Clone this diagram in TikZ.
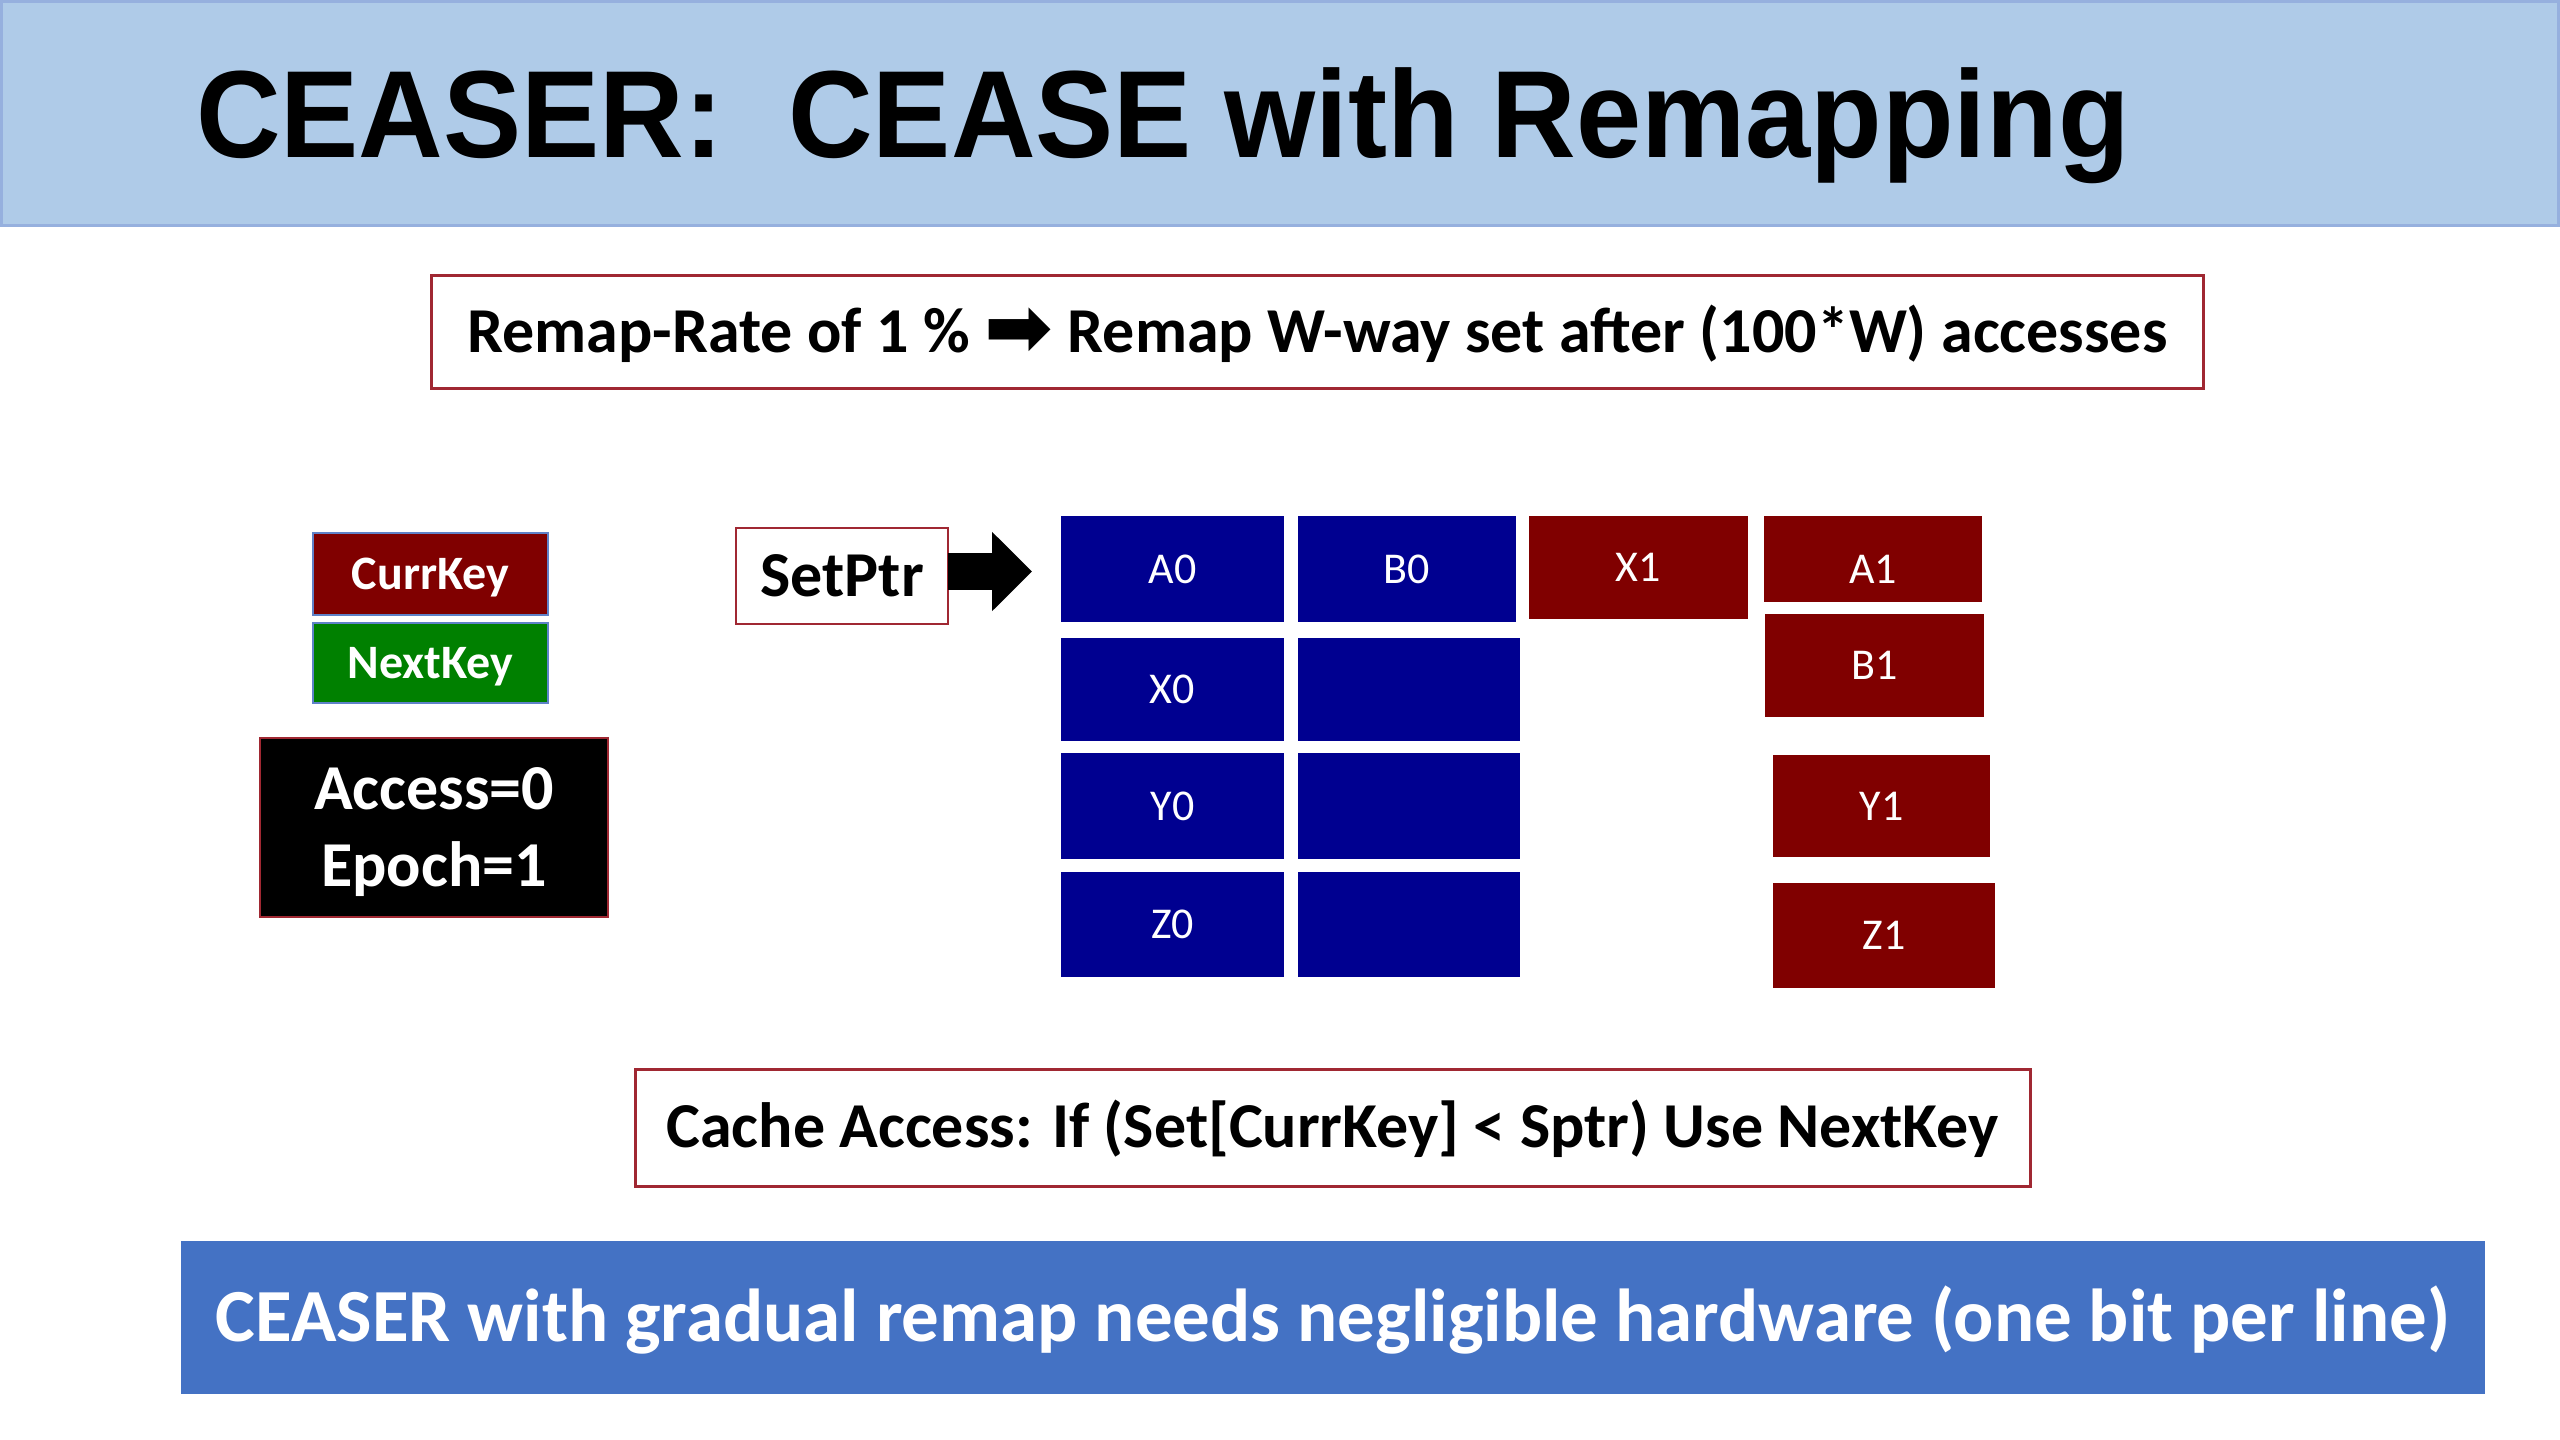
\documentclass[tikz,border=0pt]{standalone}
\usepackage{fontspec}
\setmainfont{Carlito}
\newfontfamily\titlefont{Liberation Sans}[FakeStretch=0.945]
\newfontfamily\symfont{DejaVu Sans}
\usetikzlibrary{arrows.meta,calc}
\definecolor{titlebg}{RGB}{175,203,232}
\definecolor{titleedge}{RGB}{150,176,222}
\definecolor{boxred}{RGB}{160,40,50}
\definecolor{cellblue}{RGB}{0,0,144}
\definecolor{cellred}{RGB}{128,0,0}
\definecolor{keygreen}{RGB}{0,128,0}
\definecolor{keyedge}{RGB}{95,130,200}
\definecolor{banner}{RGB}{68,114,196}
\begin{document}
\begin{tikzpicture}[x=1pt,y=-1pt,
  every node/.style={inner sep=0pt, outer sep=0pt},
  framebox/.style={draw=boxred, line width=3pt, fill=white, text=black, font=\bfseries\fontsize{#1}{#1}\selectfont},
  keybox/.style={draw=keyedge, line width=2pt, text=white, font=\bfseries\fontsize{48}{48}\selectfont, minimum width=235pt, text height=30pt, text depth=0pt},
  blue cell/.style={fill=cellblue, text=white, font=\fontsize{44}{44}\selectfont, text height=28pt, text depth=0pt},
  red cell/.style={fill=cellred, text=white, font=\fontsize{44}{44}\selectfont, text height=28pt, text depth=0pt},
  bigarrow/.style={line width=37pt, -{Triangle[length=40pt,width=77pt]}, black}
]
\useasboundingbox (0,0) rectangle (2560,1440);
\fill[white] (0,0) rectangle (2560,1440);

% title bar
\node[fill=titlebg, draw=titleedge, line width=3pt, minimum width=2557pt, minimum height=224pt] (titlebar) at (1280,113) {};
\node[anchor=base west, font=\titlefont\bfseries\fontsize{124}{124}\selectfont] (title) at (196,157) {CEASER:\ \ CEASE with Remapping};

% remap rate box
\node[framebox=64, minimum width=1772pt, minimum height=113pt, text height=41pt, text depth=0pt] (remap) at (1317.5,331.5)
  {Remap-Rate of 1 \% \raisebox{-3pt}{\symfont\fontsize{82}{82}\selectfont ➡} Remap W-way set after (100*W) accesses};

% keys
\node[keybox, fill=cellred, minimum height=82pt] (currkey) at (430.5,574) {CurrKey};
\node[keybox, fill=keygreen, minimum height=80pt] (nextkey) at (430.5,663) {NextKey};
\node[fill=black, draw=boxred, line width=2pt, text=white, align=center,
      font=\bfseries\fontsize{64}{77}\selectfont, minimum width=348pt, minimum height=179pt,
      text height=118pt, text depth=0pt] (access) at (434,827.5)
  {Access=0\\Epoch=1};

% set pointer
\node[framebox=64, line width=2.5pt, minimum width=212pt, minimum height=96pt, text height=40pt, text depth=0pt] (setptr) at (842,576) {SetPtr};
\coordinate (tip) at (1032,571.5);
\draw[bigarrow] (setptr.east |- tip) -- (tip);

% cache cells (old key, blue)
\node[blue cell, minimum width=223pt, minimum height=106pt] (a0) at (1172.5,569) {A0};
\node[blue cell, minimum width=218pt, minimum height=106pt] (b0) at (1407,569) {B0};
\node[blue cell, minimum width=223pt, minimum height=103pt] (x0) at (1172.5,689.5) {X0};
\node[blue cell, minimum width=222pt, minimum height=103pt] (e1) at (1409,689.5) {};
\node[blue cell, minimum width=223pt, minimum height=106pt] (y0) at (1172.5,806) {Y0};
\node[blue cell, minimum width=222pt, minimum height=106pt] (e2) at (1409,806) {};
\node[blue cell, minimum width=223pt, minimum height=105pt] (z0) at (1172.5,924.5) {Z0};
\node[blue cell, minimum width=222pt, minimum height=105pt] (e3) at (1409,924.5) {};

% remapped cells (new key, red)
\node[red cell, minimum width=219pt, minimum height=103pt] (x1) at (1638.5,567.5) {X1};
\node[red cell, minimum width=218pt, minimum height=86pt, text height=48pt] (a1) at (1873,559) {A1};
\node[red cell, minimum width=219pt, minimum height=103pt] (b1) at (1874.5,665.5) {B1};
\node[red cell, minimum width=217pt, minimum height=102pt] (y1) at (1881.5,806) {Y1};
\node[red cell, minimum width=222pt, minimum height=105pt] (z1) at (1884,935.5) {Z1};

% cache access rule
\node[framebox=64, minimum width=1395pt, minimum height=117pt, text height=40pt, text depth=0pt] (cache) at (1332.5,1127.5)
  {Cache Access: If (Set[CurrKey] < Sptr) Use NextKey};

% bottom banner
\node[fill=banner, text=white, font=\bfseries\fontsize{75}{75}\selectfont, minimum width=2304pt, minimum height=153pt,
      text height=47pt, text depth=0pt] (bottom) at (1333,1317.5)
  {CEASER with gradual remap needs negligible hardware (one bit per line)};
\end{tikzpicture}
\end{document}
